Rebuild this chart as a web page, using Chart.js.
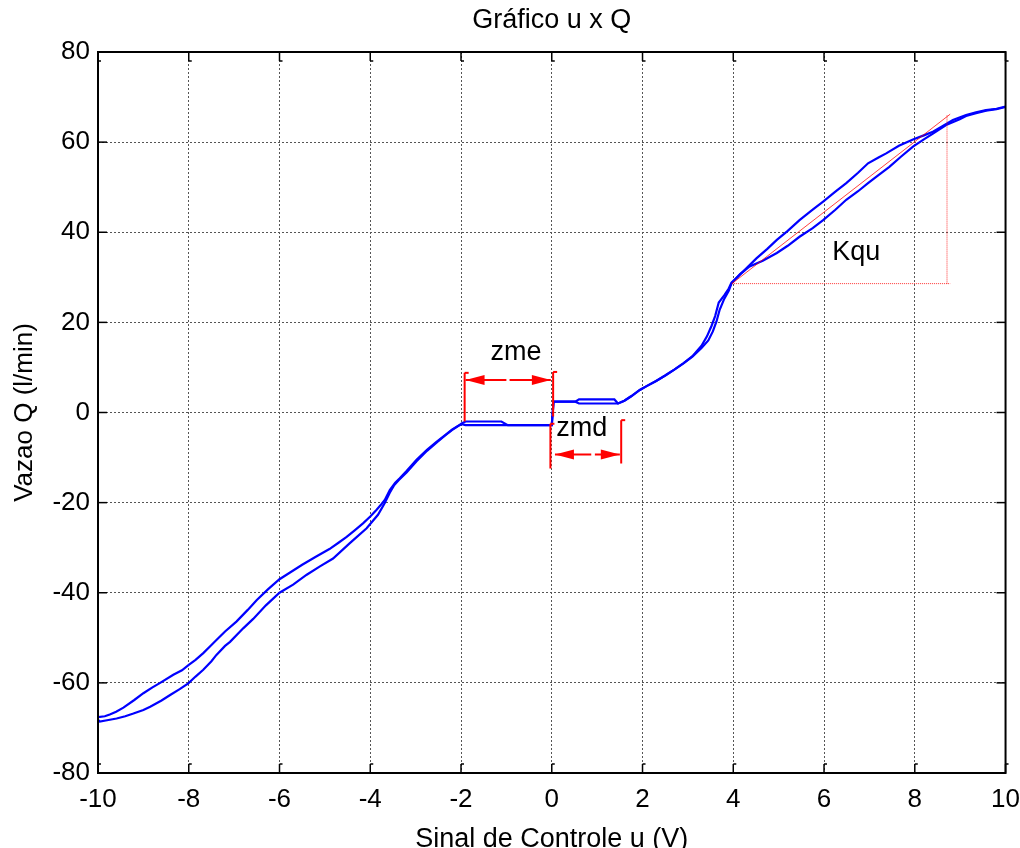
<!DOCTYPE html>
<html>
<head>
<meta charset="utf-8">
<title>Gráfico u x Q</title>
<script src="https://cdn.jsdelivr.net/npm/chart.js@4.4.1/dist/chart.umd.min.js"></script>
<style>
  body { margin: 0; background: #fff; }
  canvas { display: block; }
</style>
</head>
<body>
<canvas id="grafico" width="1020" height="848"></canvas>
<script>
// axis ticks
const xTicks = [-10, -8, -6, -4, -2, 0, 2, 4, 6, 8, 10];
const yTicks = [-80, -60, -40, -20, 0, 20, 40, 60, 80];

// upper (left) branch of the hysteresis loop
const upperU = [-10.0, -9.85, -9.74, -9.6, -9.44, -9.2, -9.0, -8.8, -8.63, -8.34, -8.15, -8.0, -7.85, -7.68, -7.5,
  -7.39, -7.2, -6.95, -6.7, -6.5, -6.25, -6.0, -5.75, -5.5, -5.2, -4.9, -4.7, -4.52, -4.35, -4.16,
  -4.0, -3.86, -3.75, -3.68, -3.57, -3.45, -3.35, -3.2, -2.98, -2.75, -2.54, -2.35, -2.2, -2.05, -1.98,
  -1.9, 0.0, 0.04, 0.52, 0.6, 1.38, 1.46, 1.6, 1.75, 1.94, 2.1, 2.3, 2.5, 2.7, 2.9,
  3.1, 3.3, 3.42, 3.52, 3.6, 3.68, 3.8, 3.9, 3.96, 4.21, 4.51, 4.75, 4.96, 5.2, 5.46,
  5.75, 5.98, 6.25, 6.49, 6.75, 6.97, 7.2, 7.37, 7.65, 7.96, 8.2, 8.4, 8.6, 8.84, 9.13,
  9.35, 9.57, 9.8, 10.0];
const upperQ = [-67.6, -67.4, -67.0, -66.4, -65.5, -63.8, -62.3, -61.0, -60.0, -58.2, -57.2, -56.0, -54.9, -53.4, -51.6,
  -50.5, -48.6, -46.4, -43.8, -41.6, -39.2, -37.0, -35.4, -33.8, -32.0, -30.3, -28.9, -27.6, -26.2, -24.6,
  -23.1, -21.6, -20.3, -19.4, -17.2, -15.6, -14.6, -13.0, -10.5, -8.3, -6.5, -5.0, -3.8, -2.9, -2.6,
  -2.8, -2.8, 2.4, 2.4, 2.9, 2.9, 2.0, 2.6, 3.6, 5.0, 5.9, 7.0, 8.2, 9.5, 10.9,
  12.5, 14.8, 16.9, 19.2, 21.4, 24.4, 26.0, 27.5, 28.8, 31.2, 34.2, 36.3, 38.3, 40.3, 42.7,
  45.0, 46.8, 49.0, 50.9, 53.2, 55.3, 56.6, 57.5, 59.2, 60.6, 61.5, 62.3, 63.5, 64.9, 66.0,
  66.6, 67.1, 67.4, 67.9];

// lower (right) branch
const lowerU = [-10.0, -9.96, -9.8, -9.59, -9.4, -9.22, -9.0, -8.85, -8.6, -8.41, -8.2, -8.01, -7.85, -7.68, -7.5,
  -7.39, -7.2, -7.09, -6.8, -6.58, -6.3, -6.0, -5.7, -5.4, -5.1, -4.82, -4.45, -4.08, -3.83, -3.68,
  -3.57, -3.47, -3.37, -3.2, -2.98, -2.75, -2.54, -2.35, -2.2, -2.05, -1.98, -1.9, -1.11, -0.97, 0.0,
  0.04, 0.52, 0.6, 1.46, 1.6, 1.75, 1.94, 2.1, 2.3, 2.5, 2.7, 2.9, 3.1, 3.3, 3.45,
  3.55, 3.63, 3.7, 3.8, 3.9, 3.96, 4.15, 4.36, 4.65, 4.96, 5.2, 5.46, 5.75, 5.98, 6.25,
  6.49, 6.75, 6.97, 7.2, 7.44, 7.7, 7.96, 8.2, 8.4, 8.69, 8.99, 9.13, 9.35, 9.57, 9.8,
  10.0];
const lowerQ = [-68.2, -68.6, -68.3, -67.9, -67.4, -66.8, -66.0, -65.3, -63.9, -62.7, -61.4, -60.1, -58.6, -57.1, -55.2,
  -53.8, -51.8, -50.9, -47.9, -45.8, -42.8, -40.0, -38.2, -36.0, -34.1, -32.4, -29.0, -25.7, -22.7, -20.1,
  -17.8, -16.1, -15.0, -13.3, -10.8, -8.5, -6.7, -5.1, -3.9, -2.9, -2.4, -2.0, -2.0, -2.8, -2.8,
  2.4, 2.4, 2.0, 2.0, 2.6, 3.6, 5.0, 5.9, 7.0, 8.2, 9.5, 10.9, 12.4, 14.3, 16.0,
  18.0, 20.2, 22.8, 25.2, 27.0, 28.6, 30.7, 32.4, 33.7, 35.4, 37.0, 39.0, 40.9, 42.7, 45.0,
  47.2, 49.1, 50.9, 52.7, 54.5, 56.8, 59.0, 60.6, 61.9, 63.8, 65.1, 65.8, 66.4, 67.0, 67.3,
  67.8];

// Kqu slope triangle
const kquU = [3.97, 8.78];
const kquQ = [28.6, 66.2];
const kquBaseQ = 28.6;
const kquRiseU = 8.71;
const kquRiseTop = 66.0;

// dead zone markers: bars [u, top, bottom] and arrows [u1, u2, q, gapStart, gapEnd]
const zoneBars = [
  [-1.92, 8.8, -2.0],
  [0.03, 9.0, -0.9],
  [-0.03, -2.5, -12.4],
  [1.53, -1.7, -11.3]
];
const zoneArrows = [
  [-1.9, -0.02, 7.2, -1.0, -0.93],
  [0.07, 1.5, -9.3, 0.87, 0.95]
];

// text notes
const noteText = ['zme', 'zmd', 'Kqu'];
const noteU = [-0.79, 0.66, 6.71];
const noteQ = [13.4, -3.55, 35.6];

const FONT = "'Liberation Sans', Arial, sans-serif";
const pts = (us, qs) => us.map((u, i) => ({ x: u, y: qs[i] }));

function seg(data, opts) {
  return Object.assign({
    data: data,
    showLine: true,
    pointRadius: 0,
    borderColor: '#ff0000',
    borderWidth: 2,
    tension: 0,
    order: 0
  }, opts || {});
}

const datasets = [];

// red annotation lines
datasets.push(seg(pts(kquU, kquQ), { borderWidth: 1, borderColor: 'rgba(255,0,0,0.75)' }));
datasets.push(seg([{ x: kquU[0], y: kquBaseQ }, { x: kquU[1], y: kquBaseQ }],
  { borderWidth: 1, borderColor: 'rgba(255,0,0,0.8)', borderDash: [1, 1] }));
datasets.push(seg([{ x: kquRiseU, y: kquBaseQ }, { x: kquRiseU, y: kquRiseTop }],
  { borderWidth: 1, borderColor: 'rgba(255,0,0,0.8)', borderDash: [1, 1] }));
zoneBars.forEach(b => datasets.push(seg([{ x: b[0], y: b[1] }, { x: b[0], y: b[2] }])));
zoneArrows.forEach(a => {
  datasets.push(seg([{ x: a[0], y: a[2] }, { x: a[3], y: a[2] }]));
  datasets.push(seg([{ x: a[4], y: a[2] }, { x: a[1], y: a[2] }]));
});

// blue loop
datasets.push(seg(pts(upperU, upperQ), { borderColor: '#0000ff', borderWidth: 2.2, order: 1 }));
datasets.push(seg(pts(lowerU, lowerQ), { borderColor: '#0000ff', borderWidth: 2.2, order: 1 }));

// arrowheads, notes, box and inward ticks
const decoracao = {
  id: 'decoracao',
  afterDatasetsDraw(chart) {
    const { ctx, scales: { x, y } } = chart;
    ctx.save();
    ctx.fillStyle = '#ff0000';
    ctx.strokeStyle = '#ff0000';
    zoneArrows.forEach(a => {
      const py = y.getPixelForValue(a[2]);
      const x1 = x.getPixelForValue(a[0]);
      const x2 = x.getPixelForValue(a[1]);
      ctx.beginPath();
      ctx.moveTo(x1, py); ctx.lineTo(x1 + 19, py - 5); ctx.lineTo(x1 + 19, py + 5);
      ctx.closePath(); ctx.fill();
      ctx.beginPath();
      ctx.moveTo(x2, py); ctx.lineTo(x2 - 19, py - 5); ctx.lineTo(x2 - 19, py + 5);
      ctx.closePath(); ctx.fill();
    });
    // little hooks on bar tops
    ctx.lineWidth = 2;
    zoneBars.forEach(b => {
      const px = x.getPixelForValue(b[0]);
      const py = y.getPixelForValue(b[1]);
      ctx.beginPath(); ctx.moveTo(px, py); ctx.lineTo(px + 4, py); ctx.stroke();
    });

    ctx.fillStyle = '#000';
    ctx.font = '27px ' + FONT;
    ctx.textAlign = 'center';
    ctx.textBaseline = 'middle';
    noteText.forEach((t, i) => {
      ctx.fillText(t, x.getPixelForValue(noteU[i]), y.getPixelForValue(noteQ[i]));
    });
    ctx.restore();
  },
  afterDraw(chart) {
    const { ctx, chartArea: a, scales: { x, y } } = chart;
    ctx.save();
    ctx.strokeStyle = '#000';
    ctx.lineWidth = 1.5;
    const line = (x1, y1, x2, y2) => { ctx.beginPath(); ctx.moveTo(x1, y1); ctx.lineTo(x2, y2); ctx.stroke(); };
    xTicks.forEach(v => {
      const px = x.getPixelForValue(v);
      line(px, a.bottom, px, a.bottom - 9);
      line(px, a.bottom - 9, px + 3, a.bottom - 9);
      line(px, a.top, px, a.top + 9);
      line(px, a.top + 9, px + 3, a.top + 9);
    });
    yTicks.forEach(v => {
      const py = y.getPixelForValue(v);
      line(a.left, py, a.left + 9, py);
      line(a.right, py, a.right - 9, py);
    });
    ctx.lineWidth = 2;
    ctx.strokeRect(a.left, a.top, a.right - a.left, a.bottom - a.top);
    ctx.restore();
  }
};

new Chart(document.getElementById('grafico'), {
  type: 'scatter',
  data: { datasets: datasets },
  options: {
    responsive: false,
    devicePixelRatio: 1,
    animation: false,
    layout: { padding: { left: 0, right: 0, top: 0, bottom: 0 } },
    plugins: {
      legend: { display: false },
      tooltip: { enabled: false },
      title: {
        display: true,
        text: 'Gráfico u x Q',
        fullSize: false,
        color: '#000',
        font: { family: FONT, size: 27, weight: 'normal', lineHeight: 1 },
        padding: { top: 7.5, bottom: 17.5 }
      }
    },
    scales: {
      x: {
        type: 'linear',
        min: -10,
        max: 10,
        afterBuildTicks: s => { s.ticks = xTicks.map(v => ({ value: v })); },
        afterFit: s => { s.height = 75; },
        grid: { color: '#555', lineWidth: 1, drawTicks: false },
        border: { display: false, dash: [2, 2] },
        ticks: {
          color: '#000',
          padding: 0,
          maxRotation: 0,
          autoSkip: false,
          // tall line box pushes the labels down without adding side padding
          font: { family: FONT, size: 26, lineHeight: '54px' }
        },
        title: {
          display: true,
          text: 'Sinal de Controle u (V)',
          color: '#000',
          font: { family: FONT, size: 27, lineHeight: 1 },
          padding: { top: 0, bottom: -5 }
        }
      },
      y: {
        type: 'linear',
        min: -80,
        max: 80,
        afterBuildTicks: s => { s.ticks = yTicks.map(v => ({ value: v })); },
        afterFit: s => { s.width = 98; },
        grid: { color: '#555', lineWidth: 1, drawTicks: false },
        border: { display: false, dash: [2, 2] },
        ticks: {
          color: '#000',
          padding: 8,
          font: { family: FONT, size: 26 }
        },
        title: {
          display: true,
          text: 'Vazao Q (l/min)',
          color: '#000',
          font: { family: FONT, size: 26, lineHeight: 1 },
          padding: { top: 12, bottom: 0 }
        }
      }
    }
  },
  plugins: [decoracao]
});
</script>
</body>
</html>
